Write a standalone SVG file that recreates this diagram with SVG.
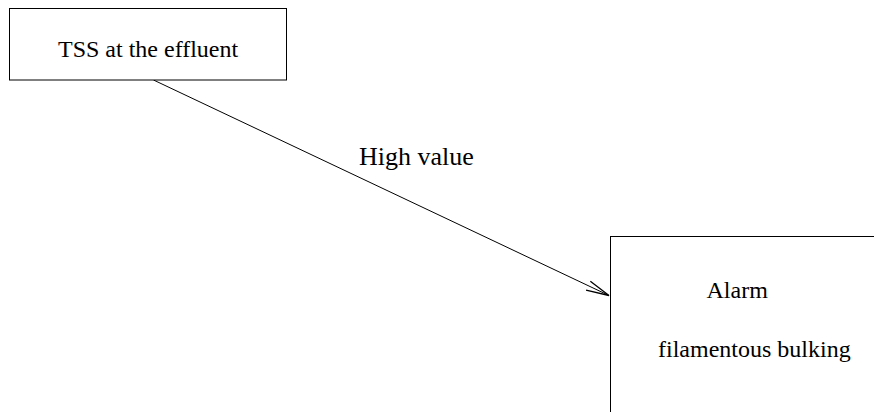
<svg xmlns="http://www.w3.org/2000/svg" width="874" height="412" viewBox="0 0 874 412">
<style>
.box{fill:#fff;stroke:#000;stroke-width:1}
.t{font-family:'Liberation Serif','Times New Roman',Times,serif;font-size:24px;fill:#000}
.edge{fill:none;stroke:#000;stroke-width:1}
</style>
<defs>
<marker id="arr" markerUnits="userSpaceOnUse" markerWidth="30" markerHeight="20" refX="0" refY="0" viewBox="-25 -10 30 20" orient="auto" overflow="visible">
<path d="M -23,-5 L 0,0 L -23,5" fill="none" stroke="#000" stroke-width="1.3"/>
</marker>
</defs>
<rect width="874" height="412" fill="#fff"/>
<g id="connectors">
<line class="edge" x1="153.5" y1="80" x2="609" y2="295.5" marker-end="url(#arr)"/>
<text class="t" x="359" y="165" style="font-size:26px">High value</text>
</g>
<g id="node-tss">
<rect class="box" x="9.5" y="8.5" width="277" height="71.5"/>
<text class="t" x="58" y="57">TSS at the effluent</text>
</g>
<g id="node-alarm">
<rect class="box" x="610.5" y="236.5" width="280" height="200"/>
<text class="t" x="706.5" y="297.5">Alarm</text>
<text class="t" x="658" y="357">filamentous bulking</text>
</g>
</svg>
